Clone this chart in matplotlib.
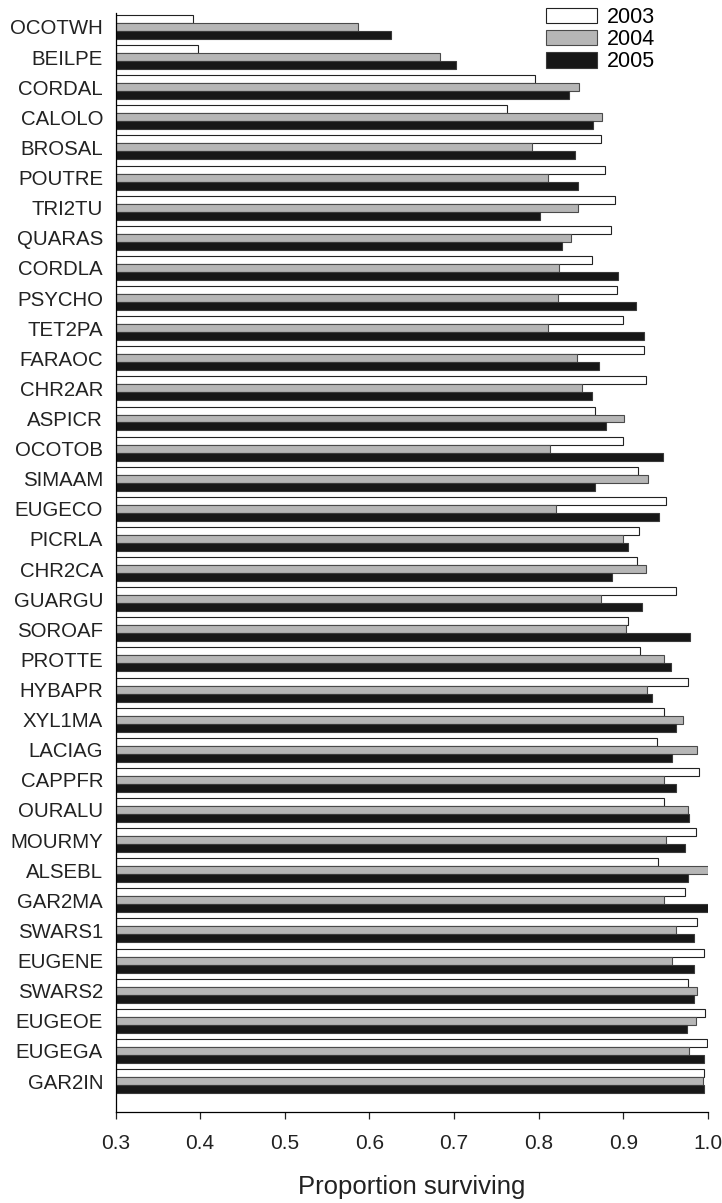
import numpy as np
import matplotlib
matplotlib.use("Agg")
import matplotlib.pyplot as plt

# species codes, top to bottom
species = ["OCOTWH", "BEILPE", "CORDAL", "CALOLO", "BROSAL", "POUTRE",
           "TRI2TU", "QUARAS", "CORDLA", "PSYCHO", "TET2PA", "FARAOC",
           "CHR2AR", "ASPICR", "OCOTOB", "SIMAAM", "EUGECO", "PICRLA",
           "CHR2CA", "GUARGU", "SOROAF", "PROTTE", "HYBAPR", "XYL1MA",
           "LACIAG", "CAPPFR", "OURALU", "MOURMY", "ALSEBL", "GAR2MA",
           "SWARS1", "EUGENE", "SWARS2", "EUGEOE", "EUGEGA", "GAR2IN"]

# proportion surviving per year
surv_2003 = [0.391, 0.398, 0.796, 0.762, 0.874, 0.878,
             0.890, 0.885, 0.863, 0.893, 0.900, 0.924,
             0.927, 0.866, 0.900, 0.917, 0.950, 0.919,
             0.916, 0.962, 0.905, 0.920, 0.976, 0.948,
             0.940, 0.989, 0.948, 0.986, 0.941, 0.973,
             0.987, 0.995, 0.976, 0.996, 0.999, 0.995]
surv_2004 = [0.586, 0.683, 0.848, 0.875, 0.792, 0.811,
             0.846, 0.838, 0.824, 0.823, 0.811, 0.845,
             0.851, 0.901, 0.813, 0.929, 0.820, 0.899,
             0.927, 0.874, 0.903, 0.948, 0.928, 0.970,
             0.987, 0.948, 0.976, 0.950, 1.000, 0.948,
             0.962, 0.958, 0.987, 0.986, 0.978, 0.994]
surv_2005 = [0.625, 0.702, 0.836, 0.864, 0.843, 0.847,
             0.802, 0.827, 0.894, 0.915, 0.924, 0.871,
             0.863, 0.880, 0.947, 0.867, 0.942, 0.906,
             0.886, 0.922, 0.979, 0.956, 0.934, 0.962,
             0.957, 0.962, 0.977, 0.973, 0.976, 1.000,
             0.984, 0.983, 0.983, 0.975, 0.995, 0.995]

years = ["2003", "2004", "2005"]
XMIN = 0.3
XMAX = 1.0

plt.rcParams['font.family'] = ['Liberation Sans', 'DejaVu Sans']

fig = plt.figure(figsize=(7.22, 12.03), dpi=100)
ax = fig.add_axes([0.16, 0.0756, 0.8206, 0.9136])

y = np.arange(len(species))
h = 0.265

series = [surv_2003, surv_2004, surv_2005]
fills = ["white", "#b6b6b6", "#171717"]
edges = ["#222222", "#4a4a4a", "#3a3a3a"]

for k in range(3):
    vals = np.array(series[k]) - XMIN
    ax.barh(y + (k - 1) * h, vals, height=h, left=XMIN,
            color=fills[k], edgecolor=edges[k], linewidth=0.8,
            label=years[k])

ax.set_xlim(XMIN, XMAX)
ax.set_ylim(36.03, -0.465)
ax.set_xticks([0.3, 0.4, 0.5, 0.6, 0.7, 0.8, 0.9, 1.0])
ax.set_xticklabels(["0.3", "0.4", "0.5", "0.6", "0.7", "0.8", "0.9", "1.0"])
ax.set_yticks(y)
ax.set_yticklabels(species)

ax.spines['top'].set_visible(False)
ax.spines['right'].set_visible(False)
ax.spines['left'].set_linewidth(0.9)
ax.spines['bottom'].set_linewidth(0.9)

ax.tick_params(axis='x', direction='out', length=5, width=0.9,
               pad=11, labelsize=15, colors='#222222')
ax.tick_params(axis='y', length=0, pad=9, labelsize=14.7, colors='#222222')

ax.set_xlabel("Proportion surviving", fontsize=18.5, labelpad=16, color='#222222')

leg = ax.legend(loc='upper left', bbox_to_anchor=(546 / 722, 1 - 7 / 1203),
                bbox_transform=fig.transFigure, frameon=False, fontsize=15.5,
                handlelength=2.35, handleheight=0.75, labelspacing=0.05,
                handletextpad=0.5, borderpad=0, borderaxespad=0)

fig.savefig("out.png", dpi=100)
